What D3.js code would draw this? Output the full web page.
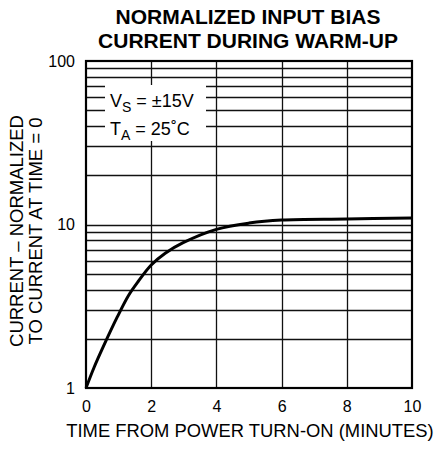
<!DOCTYPE html>
<html>
<head>
<meta charset="utf-8">
<script src="https://cdn.jsdelivr.net/npm/d3@7"></script>
<style>
  html, body { margin: 0; padding: 0; background: #fff; }
  svg { display: block; }
  text { font-family: "Liberation Sans", Arial, Helvetica, sans-serif; fill: #000; }
</style>
</head>
<body>
<svg id="chart" width="435" height="461"></svg>
<script>
// ---- data ----
const timeMinutes = [0, 0.25, 0.53, 0.96, 1.3, 1.6, 2, 2.43, 2.98, 4, 5, 6, 8, 10];
const normalizedCurrent = [1, 1.34, 1.79, 2.72, 3.67, 4.48, 5.65, 6.67, 7.74, 9.34, 10.2, 10.65, 10.8, 10.96];
const xTickValues = [0, 2, 4, 6, 8, 10];
const yTickValues = [1, 10, 100];
const titleLines = ["NORMALIZED INPUT BIAS", "CURRENT DURING WARM-UP"];
const xAxisTitle = "TIME FROM POWER TURN-ON (MINUTES)";
const yAxisTitleLines = ["CURRENT \u2013 NORMALIZED", "TO CURRENT AT TIME = 0"];

// ---- layout ----
const svg = d3.select("#chart");
const m = { left: 86, right: 23, top: 61, bottom: 73 };
const W = 435, H = 461;
const pw = W - m.left - m.right, ph = H - m.top - m.bottom;

const x = d3.scaleLinear().domain([0, 10]).range([m.left, m.left + pw]);
const y = d3.scaleLog().domain([1, 100]).range([m.top + ph, m.top]);

// grid
const minor = [];
for (let dec = 1; dec < 100; dec *= 10) for (let k = 2; k <= 9; k++) minor.push(k * dec);
const gridY = minor.concat([10]);
const g = svg.append("g");
g.selectAll("line.h").data(gridY).join("line")
  .attr("x1", x(0)).attr("x2", x(10))
  .attr("y1", d => Math.round(y(d)) + 0.5).attr("y2", d => Math.round(y(d)) + 0.5)
  .attr("stroke", "#111").attr("stroke-width", 1.3);
g.selectAll("line.v").data([2, 4, 6, 8]).join("line")
  .attr("x1", d => Math.round(x(d)) + 0.5).attr("x2", d => Math.round(x(d)) + 0.5)
  .attr("y1", y(100)).attr("y2", y(1))
  .attr("stroke", "#111").attr("stroke-width", 1.3);

// legend box (white, covers grid)
const lg = svg.append("g");
lg.append("rect").attr("x", 105).attr("y", 85).attr("width", 101).attr("height", 56).attr("fill", "#fff");
const l1 = lg.append("text").attr("x", 110).attr("y", 107).attr("font-size", 18);
l1.append("tspan").text("V");
l1.append("tspan").attr("font-size", 14).attr("dy", 5).text("S");
l1.append("tspan").attr("dy", -5).text(" = \u00b115V");
const l2 = lg.append("text").attr("x", 110).attr("y", 135).attr("font-size", 18);
l2.append("tspan").text("T");
l2.append("tspan").attr("font-size", 14).attr("dy", 5).text("A");
l2.append("tspan").attr("dy", -5).text(" = 25\u02daC");

// frame
svg.append("rect").attr("x", x(0)).attr("y", y(100)).attr("width", pw).attr("height", ph)
  .attr("fill", "none").attr("stroke", "#000").attr("stroke-width", 2.2);

// curve
const line = d3.line().x((d, i) => x(timeMinutes[i])).y(d => y(d)).curve(d3.curveCatmullRom.alpha(0.5));
svg.append("path").datum(normalizedCurrent).attr("d", line)
  .attr("fill", "none").attr("stroke", "#000").attr("stroke-width", 3);

// axes
const yAxis = svg.append("g").attr("transform", `translate(${x(0)},0)`)
  .call(d3.axisLeft(y).tickValues(yTickValues).tickFormat(d3.format("d")).tickSize(0).tickPadding(11));
yAxis.select(".domain").remove();
yAxis.selectAll("text").attr("font-size", 16).attr("font-family", '"Liberation Sans", Arial, sans-serif').attr("fill", "#000");

const xAxis = svg.append("g").attr("transform", `translate(0,${y(1)})`)
  .call(d3.axisBottom(x).tickValues(xTickValues).tickFormat(d3.format("d")).tickSize(0).tickPadding(13));
xAxis.select(".domain").remove();
xAxis.selectAll("text").attr("font-size", 16).attr("font-family", '"Liberation Sans", Arial, sans-serif').attr("fill", "#000");

// titles
svg.selectAll("text.title").data(titleLines).join("text").attr("class", "title")
  .attr("x", 248).attr("y", (d, i) => 24 + i * 23.5)
  .attr("text-anchor", "middle").attr("font-size", 21).attr("font-weight", "bold").text(d => d);

svg.append("text").attr("x", 250).attr("y", 437).attr("text-anchor", "middle")
  .attr("font-size", 18.4).text(xAxisTitle);

svg.selectAll("text.ytitle").data(yAxisTitleLines).join("text").attr("class", "ytitle")
  .attr("transform", (d, i) => `translate(${23 + i * 19},${231}) rotate(-90)`)
  .attr("text-anchor", "middle").attr("font-size", 18.5).text(d => d);
</script>
</body>
</html>
